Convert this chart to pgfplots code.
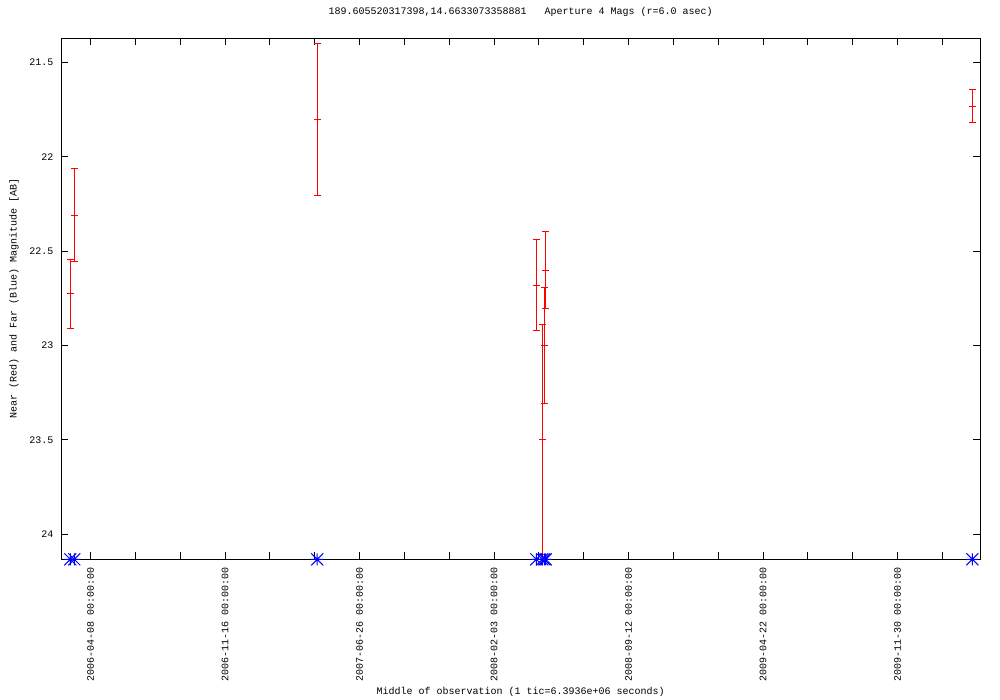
\documentclass[border=0pt]{standalone}
\usepackage{pgfplots}
\pgfplotsset{compat=1.18}
\usepackage{pgfplotstable}
\usepackage{fontspec}
\setmainfont{Liberation Mono}
\pgfdeclareplotmark{gpstar}{%
 \pgfpathmoveto{\pgfqpoint{-\pgfplotmarksize}{0pt}}\pgfpathlineto{\pgfqpoint{\pgfplotmarksize}{0pt}}%
 \pgfpathmoveto{\pgfqpoint{0pt}{-\pgfplotmarksize}}\pgfpathlineto{\pgfqpoint{0pt}{\pgfplotmarksize}}%
 \pgfpathmoveto{\pgfqpoint{-\pgfplotmarksize}{-\pgfplotmarksize}}\pgfpathlineto{\pgfqpoint{\pgfplotmarksize}{\pgfplotmarksize}}%
 \pgfpathmoveto{\pgfqpoint{-\pgfplotmarksize}{\pgfplotmarksize}}\pgfpathlineto{\pgfqpoint{\pgfplotmarksize}{-\pgfplotmarksize}}%
 \pgfusepathqstroke}
\definecolor{gpred}{RGB}{255,0,0}
\definecolor{gpblue}{RGB}{0,0,255}
\pgfplotstableread{
x y err
-11.17 22.727 0.184
-8.97 22.310 0.245
124.7 21.802 0.404
245.2 22.681 0.240
248.5 23.497 0.609
249.6 23.000 0.305
250.4 22.602 0.204
485.1 21.733 0.087
}\neardata
\pgfplotstableread{
x y
-11.17 24.132
-8.97 24.132
124.7 24.132
245.2 24.132
248.5 24.132
249.6 24.132
250.4 24.132
485.1 24.132
}\fardata
\begin{document}
\begin{tikzpicture}
\useasboundingbox (0pt,0pt) rectangle (1000pt,700pt);
\begin{axis}[
  at={(61.3pt,140.7pt)}, anchor=south west,
  scale only axis, width=918.7pt, height=521pt,
  xmin=-16.1, xmax=489.3,
  ymin=21.373, ymax=24.132,
  y dir=reverse,
  clip=false,
  axis line style={black, line width=1pt},
  every tick/.style={black, line width=1pt},
  major tick length=7pt, minor tick length=7pt,
  xtick={0,74,148,222,296,370,444},
  xticklabels={2006-04-08 00:00:00,2006-11-16 00:00:00,2007-06-26 00:00:00,2008-02-03 00:00:00,2008-09-12 00:00:00,2009-04-22 00:00:00,2009-11-30 00:00:00},
  minor xtick={24.667,49.333,98.667,123.333,172.667,197.333,246.667,271.333,320.667,345.333,394.667,419.333,468.667},
  ytick={21.5,22,22.5,23,23.5,24},
  yticklabels={21.5,22,22.5,23,23.5,24},
  x tick label style={rotate=90, anchor=east, font=\fontsize{10}{12}\selectfont},
  y tick label style={font=\fontsize{10}{12}\selectfont},
  xticklabel shift=4.5pt,
  yticklabel shift=4.5pt,
  title={189.605520317398,14.6633073358881\ \ \ Aperture 4 Mags (r=6.0 asec)},
  title style={at={(axis description cs:0.5,1.039)}, anchor=center, font=\fontsize{10}{12}\selectfont},
  xlabel={Middle of observation (1 tic=6.3936e+06 seconds)},
  xlabel style={at={(axis description cs:0.5,-0.2547)}, anchor=center, font=\fontsize{10}{12}\selectfont},
  ylabel={Near (Red) and Far (Blue) Magnitude [AB]},
  ylabel style={at={(axis description cs:-0.0515,0.5)}, anchor=center, rotate=0, font=\fontsize{10}{12}\selectfont},
]
\addplot[only marks, gpred, line width=1pt, mark=-, mark size=3.5pt,
  error bars/.cd, y dir=both, y explicit,
  error bar style={gpred, line width=1pt},
  error mark=-, error mark options={rotate=90, gpred, line width=1pt, mark size=3.5pt}]
  table[x=x, y=y, y error=err]{\neardata};
\addplot[only marks, gpblue, line width=1pt, mark=gpstar, mark size=6pt] table[x=x,y=y]{\fardata};
\end{axis}
\end{tikzpicture}
\end{document}
